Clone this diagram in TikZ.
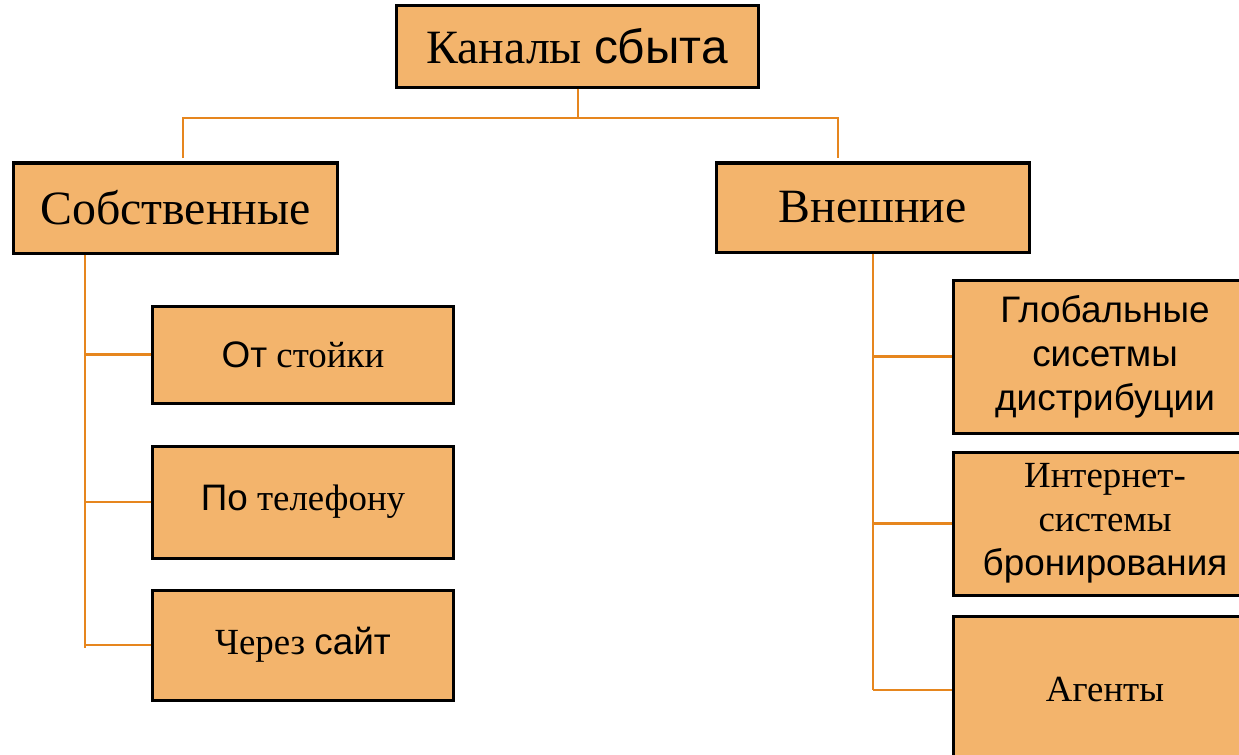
\documentclass[tikz,border=0pt]{standalone}
\usepackage{fontspec}
\setmainfont{Liberation Serif}
\newfontfamily\arialfont{Liberation Sans}
\usetikzlibrary{calc}

\definecolor{boxfill}{RGB}{243,180,108}
\definecolor{linkorange}{RGB}{230,134,30}

\tikzset{
  box/.style={draw=black, line width=3bp, fill=boxfill, inner sep=0pt,
    align=center, font=\fontsize{37}{44}\selectfont},
  bigbox/.style={box, font=\fontsize{48}{56}\selectfont},
  link/.style={draw=linkorange, line width=2.5bp}
}

\begin{document}
\begin{tikzpicture}[x=1bp,y=-1bp]
    \fill[white] (0,0) rectangle (1239,755);
    \clip (0,0) rectangle (1239,755);

    % --- Top level
    \node[bigbox, minimum width=362bp, minimum height=81bp] (root) at (577,46.5)
      {Каналы {\arialfont сбыта}};

    \node[bigbox, minimum width=323bp, minimum height=90bp] (own) at (175.5,208)
      {Собственные};
    \node[bigbox, minimum width=313bp, minimum height=89bp] (ext) at (872.5,207.5)
      {Внешние};

    \coordinate (split) at (578,118);
    \coordinate (ownTop) at (183,158);
    \coordinate (extTop) at (838,158);
    \draw[link] (root.south -| split) -- (split);
    \draw[link] (ownTop) |- (split) -| (extTop);

    % --- Own channels (left)
    \node[box, minimum width=300bp, minimum height=97bp] (counter) at (303,354.5)
      {{\arialfont От} стойки};
    \node[box, minimum width=300bp, minimum height=112bp] (phone) at (303,502)
      {{\arialfont По} телефону};
    \node[box, minimum width=300bp, minimum height=110bp] (site) at (303,645)
      {Через {\arialfont сайт}};

    \coordinate (lbus) at (85,648);
    \draw[link] (own.south -| lbus) -- (lbus);
    \draw[link] (counter.west) -- (counter.west -| lbus);
    \draw[link] (phone.west) -- (phone.west -| lbus);
    \draw[link] (site.west) -- (site.west -| lbus);

    % --- External channels (right)
    \node[box, minimum width=304bp, minimum height=153bp] (gds) at (1105,356.5)
      {\arialfont Глобальные\\\arialfont сисетмы\\\arialfont дистрибуции};
    \node[box, minimum width=304bp, minimum height=143bp] (web) at (1105,523.5)
      {Интернет-\\системы\\{\arialfont бронирования}};
    \node[box, minimum width=304bp, minimum height=148bp] (agent) at (1105,690)
      {Агенты};

    \coordinate (rbus) at (873,690);
    \draw[link] (ext.south -| rbus) -- (rbus);
    \draw[link] (gds.west) -- (gds.west -| rbus);
    \draw[link] (web.west) -- (web.west -| rbus);
    \draw[link] (agent.west) -- (rbus);
\end{tikzpicture}
\end{document}
